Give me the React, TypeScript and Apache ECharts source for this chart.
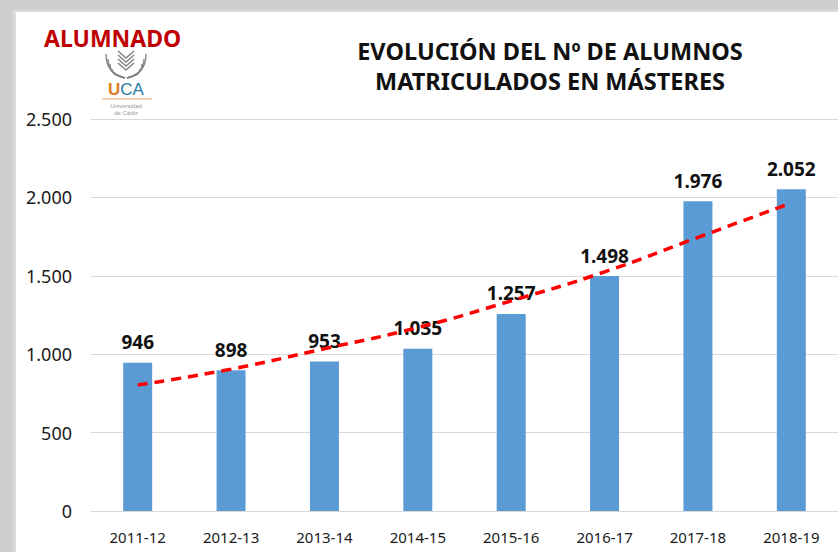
import React, { useEffect, useRef } from "react";
import * as echarts from "echarts";

const categories = ["2011-12", "2012-13", "2013-14", "2014-15", "2015-16", "2016-17", "2017-18", "2018-19"];
const alumnos = [946, 898, 953, 1035, 1257, 1498, 1976, 2052];
const tendencia = [803, 905, 1035, 1170, 1340, 1525, 1745, 1965];

const titleText = "EVOLUCIÓN DEL Nº DE ALUMNOS\nMATRICULADOS EN MÁSTERES";
const tagText = "ALUMNADO";

const fmt = (v: number) => String(Math.round(v)).replace(/\B(?=(\d{3})+(?!\d))/g, ".");

export default function App() {
  const ref = useRef<HTMLDivElement>(null);
  useEffect(() => {
    if (!ref.current) return;
    const chart = echarts.init(ref.current, null, { renderer: "svg" });
    const gray = "#858585";
    const emblem: any[] = [];
    for (let k = 0; k < 4; k++) {
      emblem.push({
        type: "polyline",
        shape: { points: [[118, 51 + k * 4], [126, 58 + k * 4], [134, 51 + k * 4]] },
        style: { stroke: gray, fill: null, lineWidth: 1.5 },
      });
    }
    for (let k = 0; k < 4; k++) {
      emblem.push({
        type: "bezierCurve",
        shape: { x1: 125, y1: 78, x2: 106 + k * 2, y2: 54 + k * 5, cpx1: 111 + k * 2, cpy1: 75, cpx2: 106 + k * 2, cpy2: 66 + k * 3 },
        style: { stroke: gray, fill: null, lineWidth: 1.4 },
      });
      emblem.push({
        type: "bezierCurve",
        shape: { x1: 127, y1: 78, x2: 146 - k * 2, y2: 54 + k * 5, cpx1: 141 - k * 2, cpy1: 75, cpx2: 146 - k * 2, cpy2: 66 + k * 3 },
        style: { stroke: gray, fill: null, lineWidth: 1.4 },
      });
    }
    chart.setOption({
      animation: false,
      backgroundColor: "transparent",
      title: {
        text: titleText,
        left: 545,
        top: 31,
        textAlign: "center",
        textStyle: {
          fontFamily: "Noto Sans",
          fontWeight: "bold",
          fontSize: 23.5,
          lineHeight: 30,
          color: "#111111",
        },
      },
      graphic: [
        {
          type: "text",
          left: 44,
          top: 26,
          style: { text: tagText, fill: "#c00000", font: "bold 23px 'Noto Sans'" },
        },
        { type: "group", children: emblem },
        {
          type: "text",
          x: 126,
          y: 89,
          style: {
            text: "{u|U}{c|CA}",
            align: "center",
            verticalAlign: "middle",
            rich: {
              u: { fill: "#e07b1f", fontSize: 17, fontFamily: "Liberation Sans", fontWeight: "bold" },
              c: { fill: "#2a7ca6", fontSize: 17, fontFamily: "Liberation Sans" },
            },
          },
        },
        {
          type: "line",
          shape: { x1: 102, y1: 99, x2: 152, y2: 99 },
          style: { stroke: "#f0a060", lineWidth: 1.2 },
        },
        {
          type: "text",
          x: 126,
          y: 106,
          style: { text: "Universidad", align: "center", verticalAlign: "middle", fill: "#999999", font: "6px 'Liberation Sans'" },
        },
        {
          type: "text",
          x: 126,
          y: 113,
          style: { text: "de Cádiz", align: "center", verticalAlign: "middle", fill: "#999999", font: "6px 'Liberation Sans'" },
        },
      ],
      grid: { left: 91, right: 0, top: 119, bottom: 41, containLabel: false },
      xAxis: {
        type: "category",
        data: categories,
        axisTick: { show: false },
        axisLine: { lineStyle: { color: "#d9d9d9", width: 1 } },
        axisLabel: {
          margin: 18,
          color: "#1a1a1a",
          fontSize: 15,
          fontFamily: "Noto Sans",
        },
      },
      yAxis: {
        type: "value",
        min: 0,
        max: 2500,
        interval: 500,
        axisLine: { show: false },
        axisTick: { show: false },
        splitLine: { lineStyle: { color: "#d9d9d9", width: 1 } },
        axisLabel: {
          margin: 19,
          color: "#1a1a1a",
          fontSize: 18,
          fontFamily: "Noto Sans",
          formatter: (v: number) => fmt(v),
        },
      },
      series: [
        {
          type: "bar",
          data: alumnos,
          barWidth: 29,
          itemStyle: { color: "#5b9bd5" },
          label: {
            show: true,
            position: "top",
            distance: 11,
            color: "#111111",
            fontWeight: "bold",
            fontSize: 19,
            fontFamily: "Noto Sans",
            formatter: (p: any) => fmt(p.value),
          },
          z: 2,
        },
        {
          type: "line",
          data: tendencia,
          smooth: true,
          symbol: "none",
          lineStyle: { color: "#ff0000", width: 3.5, type: [10, 7] },
          z: 3,
        },
      ],
    });
    return () => chart.dispose();
  }, []);
  return (
    <div style={{ position: "fixed", left: 0, top: 0, width: 838, height: 552, background: "#cfcfcf", overflow: "hidden" }}>
      <div style={{ position: "absolute", left: 13, top: 10, right: 0, bottom: 0, background: "#dcdcdc" }} />
      <div style={{ position: "absolute", left: 16, top: 12, right: 0, bottom: 0, background: "#ffffff" }} />
      <div ref={ref} style={{ position: "absolute", left: 0, top: 0, width: 838, height: 552 }} />
    </div>
  );
}
